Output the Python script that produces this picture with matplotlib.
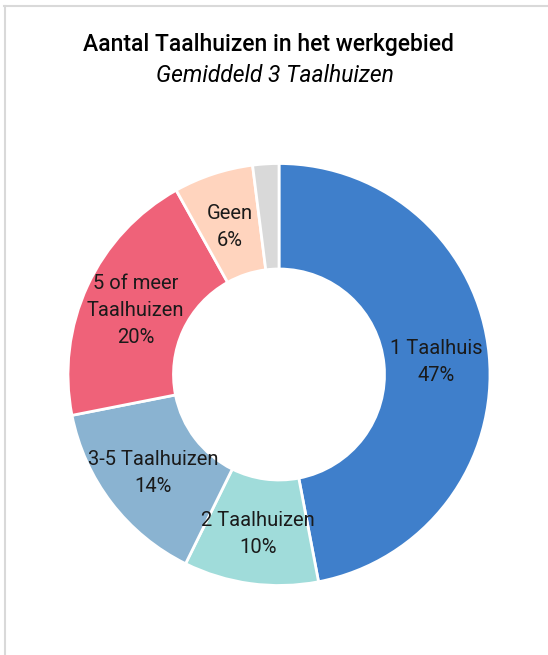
import matplotlib
matplotlib.use("Agg")
import matplotlib.pyplot as plt
import numpy as np

categories = ["1 Taalhuis", "2 Taalhuizen", "3-5 Taalhuizen", "5 of meer\nTaalhuizen", "Geen", ""]
values = [47.0, 10.3, 14.6, 20.0, 6.1, 2.0]
pct_labels = ["47%", "10%", "14%", "20%", "6%", ""]
colors = ["#3F7FCB", "#A0DCDA", "#8AB3D1", "#EF6279", "#FFD4BE", "#D9D9D9"]

plt.rcParams['font.family'] = ['Roboto', 'DejaVu Sans']

fig = plt.figure(figsize=(5.48, 6.55), dpi=100)
# frame lines (top and left)
fig.add_artist(plt.Line2D([0.007, 1.0], [1 - 6/655, 1 - 6/655], color="#D9D9D9", lw=1.5, transform=fig.transFigure))
fig.add_artist(plt.Line2D([4.5/548, 4.5/548], [0, 1 - 6/655], color="#D9D9D9", lw=1.5, transform=fig.transFigure))

fig.text(268/548, 1 - 45/655, "Aantal Taalhuizen in het werkgebied", ha="center", va="center",
         fontsize=16.5, fontweight="medium", color="#000000")
fig.text(275/548, 1 - 75/655, "Gemiddeld 3 Taalhuizen", ha="center", va="center",
         fontsize=16.5, style="italic", color="#000000")

cx, cy, R = 279, 374.5, 211
ax = fig.add_axes([(cx - R) / 548, 1 - (cy + R) / 655, 2 * R / 548, 2 * R / 655])
wedges, _ = ax.pie(values, colors=colors, startangle=90, counterclock=False,
                   radius=1.0, wedgeprops=dict(width=0.5, edgecolor="white", linewidth=2))
ax.set_xlim(-1, 1)
ax.set_ylim(-1, 1)
ax.set_aspect("equal")
ax.axis("off")

for w, cat, pl in zip(wedges, categories, pct_labels):
    if not cat:
        continue
    ang = np.deg2rad((w.theta1 + w.theta2) / 2)
    r = 0.75
    x, y = r * np.cos(ang), r * np.sin(ang) - 0.012
    ax.text(x, y, cat + "\n" + pl, ha="center", va="center", fontsize=14.5,
            color="#1a1a1a", linespacing=1.55)

fig.savefig("out.png", dpi=100)
